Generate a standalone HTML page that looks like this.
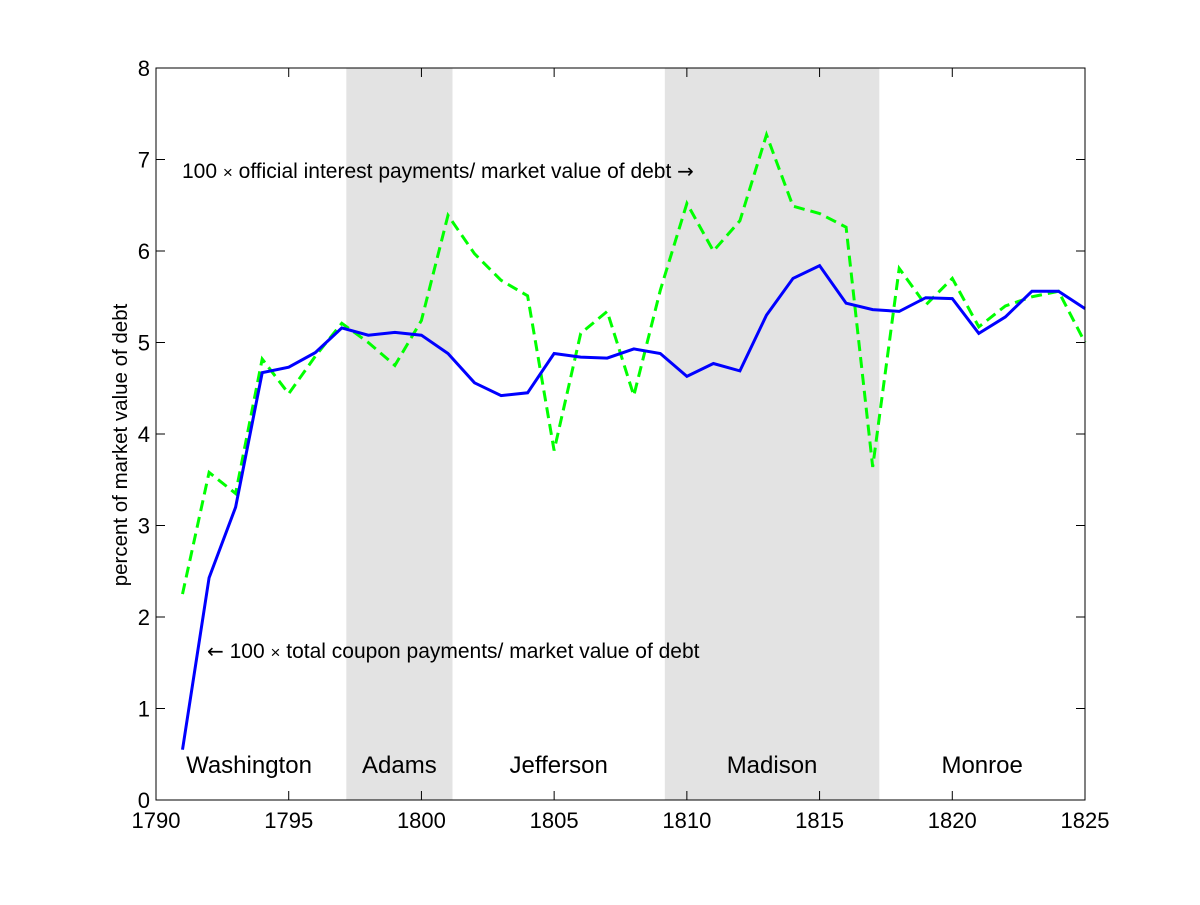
<!DOCTYPE html>
<html><head><meta charset="utf-8"><style>
body{margin:0;background:#fff}
svg text{font-family:"Liberation Sans",Arial,sans-serif;fill:#000}
.ar{font-family:"DejaVu Sans",sans-serif;font-size:20px}
</style></head><body>
<svg width="1200" height="900" viewBox="0 0 1200 900" xmlns="http://www.w3.org/2000/svg">
<g id="shades"></g>
<g id="series"></g>
<g id="axes"></g>
<g id="labels"></g>
</svg>
<script>
const years = [1791,1792,1793,1794,1795,1796,1797,1798,1799,1800,1801,1802,1803,1804,1805,1806,1807,1808,1809,1810,1811,1812,1813,1814,1815,1816,1817,1818,1819,1820,1821,1822,1823,1824,1825];
const couponVals = [0.55,2.43,3.2,4.67,4.73,4.89,5.16,5.08,5.11,5.08,4.88,4.56,4.42,4.45,4.88,4.84,4.83,4.93,4.88,4.63,4.77,4.69,5.30,5.70,5.84,5.43,5.36,5.34,5.49,5.48,5.10,5.28,5.56,5.56,5.37];
const officialVals = [2.25,3.58,3.35,4.82,4.44,4.85,5.21,5.0,4.75,5.24,6.39,5.97,5.68,5.51,3.82,5.10,5.34,4.42,5.57,6.52,6.0,6.33,7.27,6.49,6.41,6.26,3.64,5.81,5.41,5.70,5.17,5.40,5.50,5.56,5.0];
const xTicks = [1790,1795,1800,1805,1810,1815,1820,1825];
const yTicks = [0,1,2,3,4,5,6,7,8];
const terms = [["Washington",1790,1797.17,false],["Adams",1797.17,1801.17,true],["Jefferson",1801.17,1809.17,false],["Madison",1809.17,1817.25,true],["Monroe",1817.25,1825,false]];

const X0=156,X1=1085,Y0=800,Y1=68;
const sx=v=>X0+(v-1790)/35*(X1-X0);
const sy=v=>Y0-v/8*(Y0-Y1);
const NS="http://www.w3.org/2000/svg";
function mk(tag,parent,attrs){const e=document.createElementNS(NS,tag);for(const k in attrs)e.setAttribute(k,attrs[k]);document.getElementById(parent).appendChild(e);return e;}

terms.forEach(t=>{
  if(t[3]){
    const r=mk('rect','shades',{x:sx(t[1]),y:Y1,width:sx(t[2])-sx(t[1]),height:Y0-Y1,fill:'#e3e3e3'});
    
    
  }
  const cx=t[0]==="Washington"?249:(sx(t[1])+sx(t[2]))/2;
  const tx=mk('text','labels',{x:cx,y:773,'font-size':24,'text-anchor':'middle'});
  tx.textContent=t[0];
  
  
});

function line(vals,color,dash,name){
  const d=vals.map((v,i)=>(i?'L':'M')+sx(years[i]).toFixed(1)+' '+sy(v).toFixed(1)).join(' ');
  const p=mk('path','series',{d:d,fill:'none',stroke:color,'stroke-width':3,'stroke-dasharray':dash});
  
  
}
line(officialVals,'#00ff00','11,6','official-interest-line');
line(couponVals,'#0000ff','none','total-coupon-line');

const box=mk('rect','axes',{x:X0,y:Y1,width:X1-X0,height:Y0-Y1,fill:'none',stroke:'#000','stroke-width':1});


xTicks.forEach(v=>{
  const x=sx(v);
  mk('line','axes',{x1:x,x2:x,y1:Y0,y2:Y0-9,stroke:'#000'});
  mk('line','axes',{x1:x,x2:x,y1:Y1,y2:Y1+9,stroke:'#000'});
  const t=mk('text','axes',{x:x,y:828,'font-size':22,'text-anchor':'middle'});
  t.textContent=v;
  
  
});
yTicks.forEach(v=>{
  const y=sy(v);
  mk('line','axes',{x1:X0,x2:X0+9,y1:y,y2:y,stroke:'#000'});
  mk('line','axes',{x1:X1,x2:X1-9,y1:y,y2:y,stroke:'#000'});
  const t=mk('text','axes',{x:X0-6,y:y+8,'font-size':22,'text-anchor':'end'});
  t.textContent=v;
  
  
});
</script>
<svg style="position:absolute;left:0;top:0" width="1200" height="900">
<text x="127" y="445" font-size="20.5" text-anchor="middle" transform="rotate(-90 127 445)" font-family="Liberation Sans, sans-serif">percent of market value of debt</text>
<text x="182" y="178" font-size="21" font-family="Liberation Sans, sans-serif">100 <tspan font-size="17">×</tspan> official interest payments/ market value of debt <tspan class="ar">→</tspan></text>
<text x="207" y="658" font-size="21" font-family="Liberation Sans, sans-serif"><tspan class="ar">←</tspan> 100 <tspan font-size="17">×</tspan> total coupon payments/ market value of debt</text>
</svg>
</body></html>
